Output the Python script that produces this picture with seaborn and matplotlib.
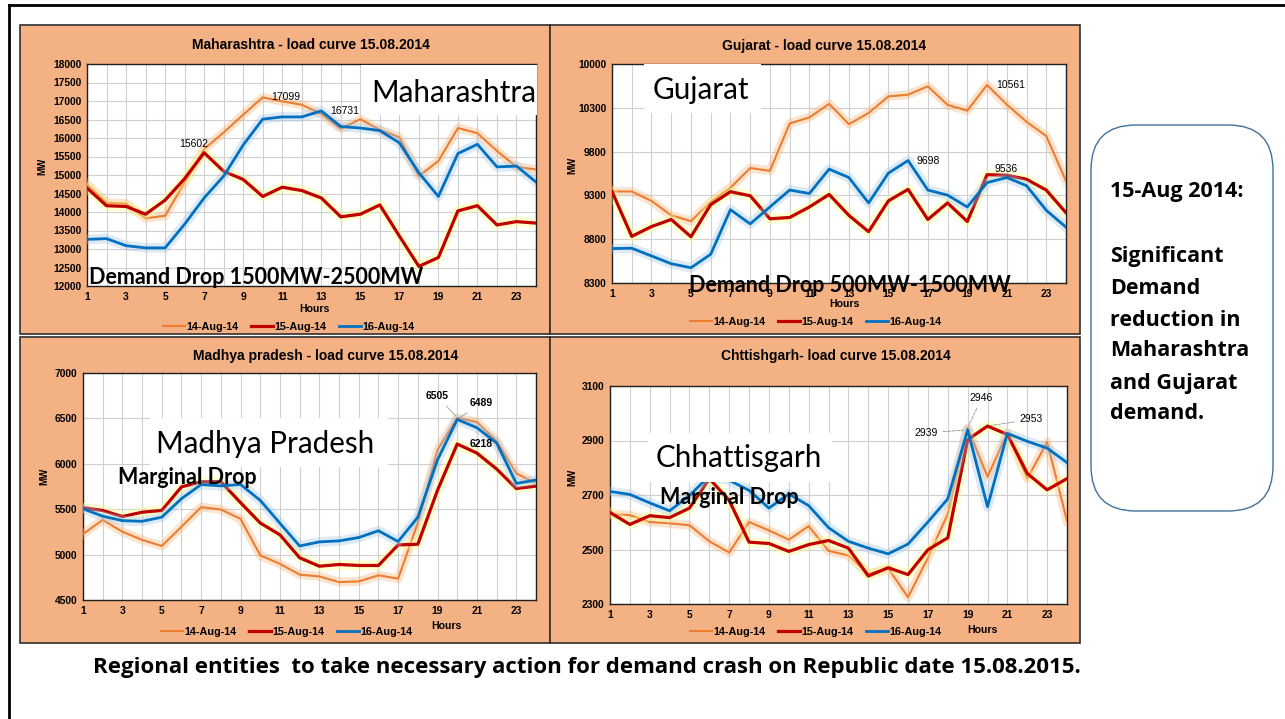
import matplotlib
matplotlib.use('Agg')
import matplotlib.pyplot as plt
import matplotlib.patheffects as pe
from matplotlib.patches import Rectangle, FancyBboxPatch
from matplotlib.lines import Line2D
import seaborn as sns
import pandas as pd

hours = list(range(1, 25))
days = ['14-Aug-14', '15-Aug-14', '16-Aug-14']

mh_14 = [14750, 14250, 14230, 13830, 13900, 14800, 15700, 16150, 16630, 17099, 16990, 16900,
         16650, 16250, 16510, 16220, 16020, 14970, 15380, 16270, 16130, 15650, 15220, 15150]
mh_15 = [14650, 14170, 14150, 13940, 14320, 14900, 15602, 15100, 14880, 14420, 14670, 14580,
         14380, 13870, 13940, 14190, 13350, 12530, 12770, 14030, 14170, 13650, 13740, 13700]
mh_16 = [13260, 13280, 13090, 13030, 13030, 13670, 14380, 14970, 15810, 16510, 16570, 16570,
         16731, 16310, 16270, 16200, 15870, 15060, 14420, 15580, 15830, 15220, 15240, 14810]

gj_14 = [9345, 9345, 9237, 9072, 9006, 9226, 9388, 9612, 9581, 10121, 10190, 10345,
         10113, 10241, 10430, 10450, 10545, 10333, 10268, 10561, 10337, 10140, 9978, 9465]
gj_15 = [9345, 8832, 8944, 9025, 8828, 9195, 9342, 9296, 9033, 9048, 9168, 9311,
         9072, 8886, 9237, 9369, 9025, 9214, 9002, 9536, 9530, 9484, 9361, 9102]
gj_16 = [8693, 8697, 8609, 8520, 8474, 8628, 9137, 8975, 9168, 9361, 9322, 9600,
         9504, 9214, 9554, 9698, 9361, 9303, 9168, 9446, 9504, 9411, 9130, 8937]

mp_14 = [5226, 5382, 5252, 5162, 5095, 5307, 5523, 5497, 5393, 4991, 4898, 4779,
         4760, 4697, 4705, 4772, 4735, 5350, 6155, 6505, 6460, 6250, 5895, 5784]
mp_15 = [5516, 5486, 5419, 5467, 5486, 5746, 5802, 5802, 5572, 5348, 5218, 4965,
         4872, 4891, 4880, 4880, 5107, 5114, 5709, 6218, 6118, 5943, 5728, 5754]
mp_16 = [5505, 5423, 5374, 5367, 5412, 5616, 5772, 5757, 5772, 5597, 5345, 5095,
         5140, 5151, 5188, 5263, 5144, 5412, 6044, 6489, 6397, 6230, 5784, 5821]

cg_14 = [2630, 2626, 2601, 2596, 2589, 2530, 2489, 2601, 2570, 2536, 2586, 2495,
         2478, 2410, 2431, 2325, 2470, 2630, 2946, 2767, 2928, 2760, 2894, 2605]
cg_15 = [2636, 2592, 2624, 2617, 2652, 2760, 2680, 2527, 2522, 2493, 2518, 2533,
         2505, 2403, 2433, 2408, 2499, 2543, 2903, 2953, 2922, 2779, 2719, 2760]
cg_16 = [2713, 2702, 2671, 2642, 2698, 2770, 2754, 2717, 2652, 2704, 2661, 2580,
         2530, 2505, 2484, 2520, 2601, 2686, 2939, 2657, 2926, 2897, 2872, 2819]

mh_ticks = list(range(12000, 18001, 500))
gj_ticks = [8300, 8800, 9300, 9800, 10300, 10800]
gj_tick_labels = ['8300', '8800', '9300', '9800', '10300', '10000']
mp_ticks = list(range(4500, 7001, 500))
cg_ticks = list(range(2300, 3101, 200))

W, H = 1285, 719
ORANGE_BG = '#F4B183'
colors = ['#ED7D31', '#C00000', '#0070C0']
glows = ['#F8B070', '#FFFF80', '#9DC3E6']
widths = [1.5, 2.3, 2.0]

fig = plt.figure(figsize=(W / 100, H / 100), dpi=100)
fig.patch.set_facecolor('white')
SLIDE = ['Lato', 'DejaVu Sans']
WIDE = ['Open Sans', 'DejaVu Sans']
CHART = ['Liberation Sans', 'DejaVu Sans']


def rect(x0, y0, x1, y1):
    return [x0 / W, 1 - y1 / H, (x1 - x0) / W, (y1 - y0) / H]


def ftext(x, y, s, **kw):
    fig.text(x / W, 1 - y / H, s, **kw)


def fbox(x0, y0, x1, y1, fc, ec='none', lw=0, z=-5):
    fig.add_artist(Rectangle((x0 / W, 1 - y1 / H), (x1 - x0) / W, (y1 - y0) / H,
                             transform=fig.transFigure, fc=fc, ec=ec, lw=lw, zorder=z))


# slide frame
fig.add_artist(Line2D([9 / W, 1], [1 - 5 / H, 1 - 5 / H], transform=fig.transFigure,
                      color='black', lw=2, zorder=10))
fig.add_artist(Line2D([9 / W, 9 / W], [0, 1 - 5 / H], transform=fig.transFigure,
                      color='black', lw=2, zorder=10))

panels = [
    dict(bg=(20, 25, 550, 334), ax=(87, 64, 536, 286), data=(mh_14, mh_15, mh_16),
         ticks=mh_ticks, labels=None, title='Maharashtra - load curve 15.08.2014',
         title_xy=(311, 45), hours_xy=(314, 309), mw_xy=(42, 166), leg_xy=(289, 327)),
    dict(bg=(550, 25, 1080, 334), ax=(612, 64, 1066, 283), data=(gj_14, gj_15, gj_16),
         ticks=gj_ticks, labels=gj_tick_labels, title='Gujarat - load curve 15.08.2014',
         title_xy=(824, 46), hours_xy=(844, 304), mw_xy=(572, 165), leg_xy=(816, 322)),
    dict(bg=(20, 337, 550, 643), ax=(83, 373, 536, 600), data=(mp_14, mp_15, mp_16),
         ticks=mp_ticks, labels=None, title='Madhya pradesh - load curve 15.08.2014',
         title_xy=(326, 356), hours_xy=(446, 626), mw_xy=(44, 476), leg_xy=(287, 632)),
    dict(bg=(550, 337, 1080, 643), ax=(610, 386, 1067, 604), data=(cg_14, cg_15, cg_16),
         ticks=cg_ticks, labels=None, title='Chttishgarh- load curve 15.08.2014',
         title_xy=(836, 356), hours_xy=(982, 630), mw_xy=(572, 477), leg_xy=(816, 632)),
]

axes = []
for p in panels:
    fbox(*p['bg'], fc=ORANGE_BG, ec='#303030', lw=1.2)
    ax = fig.add_axes(rect(*p['ax']))
    ax.set_facecolor('white')
    df = pd.DataFrame({'Hour': hours * 3,
                       'MW': list(p['data'][0]) + list(p['data'][1]) + list(p['data'][2]),
                       'Day': [d for d in days for _ in hours]})
    for i, d in enumerate(days):
        sub = df[df['Day'] == d]
        sns.lineplot(data=sub, x='Hour', y='MW', ax=ax, color=colors[i], lw=widths[i],
                     label=d, legend=False, zorder=3 + i,
                     path_effects=[pe.Stroke(linewidth=widths[i] + 5, foreground=glows[i], alpha=0.35),
                                   pe.Normal()])
    ax.set_xlim(1, 24)
    ax.set_ylim(p['ticks'][0], p['ticks'][-1])
    ax.set_xticks(list(range(1, 25, 2)))
    ax.set_xticks(hours, minor=True)
    ax.set_yticks(p['ticks'])
    if p['labels'] is not None:
        ax.set_yticklabels(p['labels'])
    ax.grid(True, which='both', axis='x', color='#D0D0D0', lw=0.8)
    ax.grid(True, which='major', axis='y', color='#D0D0D0', lw=0.8)
    ax.set_axisbelow(True)
    ax.tick_params(which='both', length=0, labelsize=7.4, pad=4)
    for lab in ax.get_xticklabels() + ax.get_yticklabels():
        lab.set_fontweight('bold')
        lab.set_family(CHART)
    for s in ax.spines.values():
        s.set_color('#202020')
        s.set_linewidth(1.0)
    ax.set_xlabel('')
    ax.set_ylabel('')
    ftext(*p['title_xy'], p['title'], ha='center', va='center', fontsize=10,
          fontweight='bold', family=CHART)
    ftext(*p['hours_xy'], 'Hours', ha='center', va='center', fontsize=7.6,
          fontweight='bold', family=CHART)
    ftext(*p['mw_xy'], 'MW', ha='center', va='center', fontsize=7, rotation=90,
          fontweight='bold', family=CHART)
    handles = [Line2D([], [], color=c, lw=w) for c, w in zip(colors, widths)]
    fig.legend(handles, days, loc='center', ncol=3, frameon=False,
               bbox_to_anchor=(p['leg_xy'][0] / W, 1 - p['leg_xy'][1] / H),
               prop={'family': CHART, 'size': 7.8, 'weight': 'bold'},
               handlelength=2.0, columnspacing=1.15, handletextpad=0.15)
    axes.append(ax)

ax_mh, ax_gj, ax_mp, ax_cg = axes

# value labels
lab_kw = dict(fontsize=7.5, family=CHART, zorder=8)
ax_mh.text(6.46, 15830, '15602', ha='center', va='center', **lab_kw)
ax_mh.text(11.2, 17106, '17099', ha='center', va='center', **lab_kw)
ax_mh.text(14.2, 16723, '16731', ha='center', va='center', **lab_kw)

ax_gj.text(21.2, 10557, '10561', ha='center', va='center', **lab_kw)
ax_gj.text(17.0, 9697, '9698', ha='center', va='center', **lab_kw)
ax_gj.text(20.95, 9600, '9536', ha='center', va='center', **lab_kw)

ax_mp.annotate('6505', xy=(20, 6505), xytext=(19.0, 6744), ha='center', va='center',
               arrowprops=dict(arrowstyle='-', color='#A0A0A0', lw=0.6), fontweight='bold', **lab_kw)
ax_mp.annotate('6489', xy=(20, 6489), xytext=(21.2, 6665), ha='center', va='center',
               arrowprops=dict(arrowstyle='-', color='#A0A0A0', lw=0.6), fontweight='bold', **lab_kw)
ax_mp.text(21.2, 6219, '6218', ha='center', va='center', fontweight='bold', **lab_kw)

ax_cg.annotate('2946', xy=(19, 2946), xytext=(19.7, 3055), ha='center', va='center',
               arrowprops=dict(arrowstyle='-', color='#909090', lw=0.6, ls='--'), **lab_kw)
ax_cg.annotate('2939', xy=(19, 2939), xytext=(16.9, 2928), ha='center', va='center',
               arrowprops=dict(arrowstyle='-', color='#909090', lw=0.6, ls='--'), **lab_kw)
ax_cg.annotate('2953', xy=(20, 2953), xytext=(22.2, 2978), ha='center', va='center',
               arrowprops=dict(arrowstyle='-', color='#909090', lw=0.6, ls='--'), **lab_kw)

# white label boxes over the charts
fbox(361, 65, 537, 115, 'white', z=5)
fbox(644, 64, 761, 113, 'white', z=5)
fbox(150, 418, 388, 467, 'white', z=5)
fbox(648, 433, 832, 482, 'white', z=5)

big = dict(fontsize=21.3, family=SLIDE, va='baseline', ha='left', zorder=6)
ftext(371, 102, 'Maharashtra', **big)
ftext(653, 99, 'Gujarat', **big)
ftext(156, 453, 'Madhya Pradesh', **big)
ftext(656, 467, 'Chhattisgarh', **big)

bold = dict(fontsize=15.5, family=SLIDE, fontweight='bold', va='baseline', ha='left', zorder=7)
ftext(89, 283.5, 'Demand Drop 1500MW-2500MW', **bold)
ftext(689, 292, 'Demand Drop 500MW-1500MW', **bold)
ftext(118, 484, 'Marginal Drop', **bold)
ftext(660, 504, 'Marginal Drop', **bold)

# side note
fig.add_artist(FancyBboxPatch((1091 / W, 1 - 511 / H), (1273 - 1091) / W, (511 - 125) / H,
                              boxstyle='round,pad=0,rounding_size=0.035',
                              transform=fig.transFigure, fc='white', ec='#41719C', lw=1.0,
                              mutation_aspect=W / H, zorder=2))
note_lines = ['15-Aug 2014:', '', '', 'Significant', 'Demand', 'reduction in',
              'Maharashtra', 'and Gujarat', 'demand.']
note_y = [192, None, None, 257, 288, 320, 351, 383, 414]
for s, y in zip(note_lines, note_y):
    if s:
        ftext(1110, y, s, fontsize=15.5, fontweight='bold', family=WIDE, va='center', ha='left')

ftext(587, 667, 'Regional entities  to take necessary action for demand crash on Republic date 15.08.2015.',
      fontsize=16, fontweight='bold', family=WIDE, va='center', ha='center')

fig.savefig('out.png', dpi=100)
